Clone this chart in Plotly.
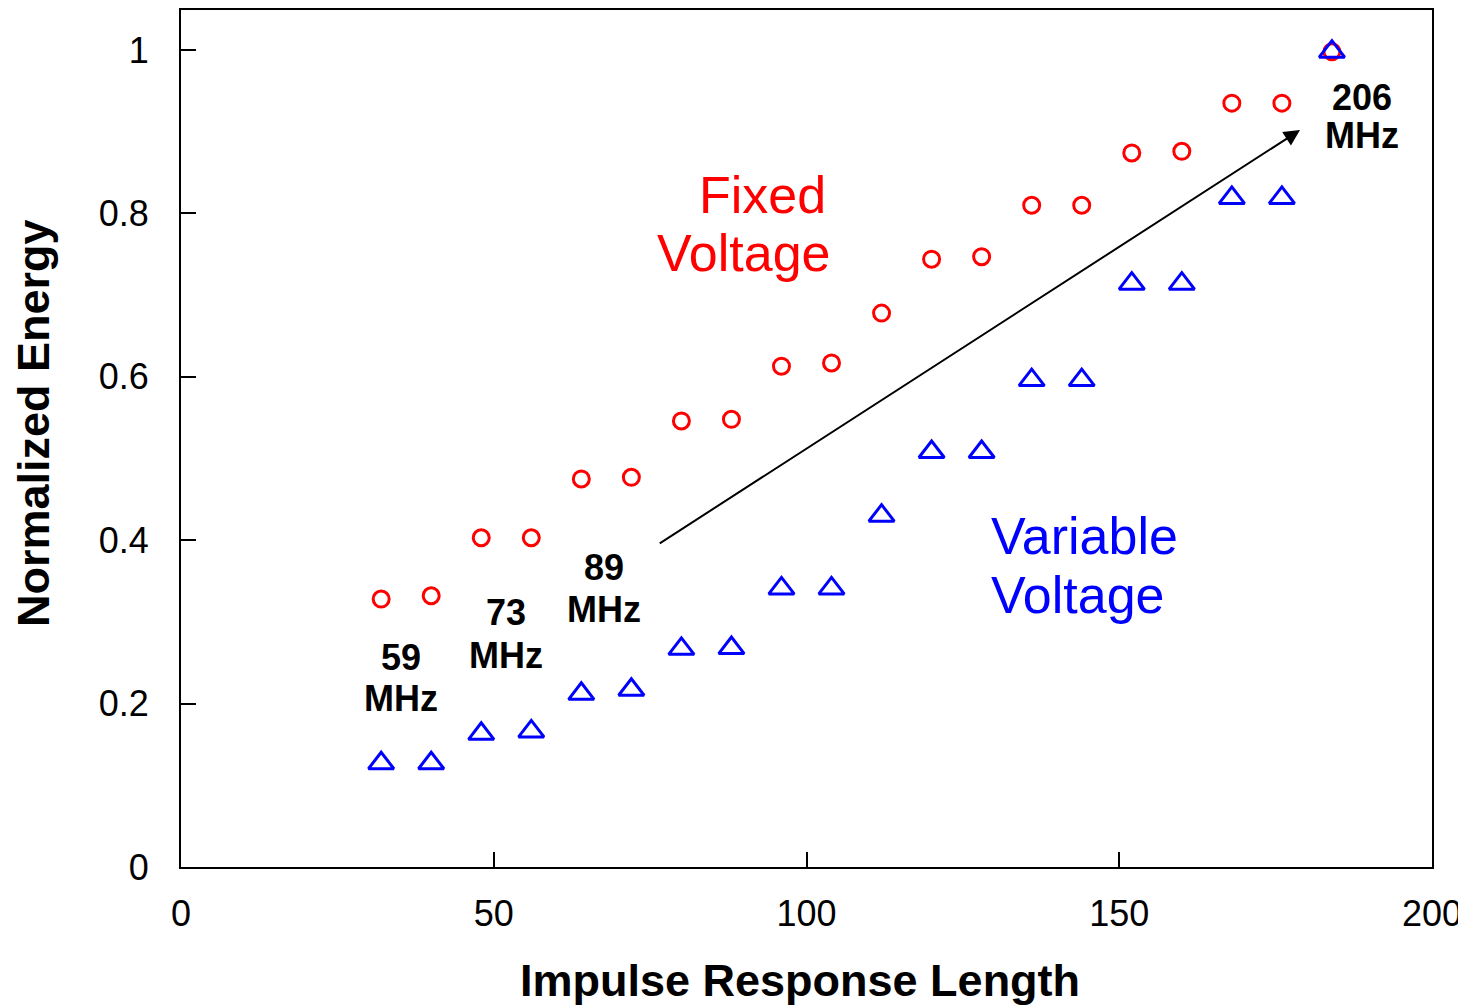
import plotly.graph_objects as go

lengths = [32, 40, 48, 56, 64, 72, 80, 88, 96, 104, 112, 120, 128, 136, 144, 152, 160, 168, 176, 184]
fixed_voltage = [0.328, 0.332, 0.403, 0.403, 0.475, 0.477, 0.546, 0.548, 0.613, 0.617,
                 0.678, 0.744, 0.747, 0.810, 0.810, 0.874, 0.876, 0.935, 0.935, 0.998]
variable_voltage = [0.127, 0.127, 0.163, 0.166, 0.212, 0.217, 0.267, 0.268, 0.341, 0.341,
                    0.430, 0.508, 0.508, 0.596, 0.596, 0.714, 0.714, 0.819, 0.819, 0.998]

freq_numbers = ["59", "73", "89", "206"]
freq_x = [35.1, 52.0, 67.6, 188.8]
freq_num_y = [0.257, 0.311, 0.366, 0.942]
freq_unit_y = [0.206, 0.259, 0.315, 0.895]

x_title = "Impulse Response Length"
y_title = "Normalized Energy"

font_family = "Liberation Sans, Arial, sans-serif"

fig = go.Figure()
fig.add_trace(go.Scatter(
    x=lengths, y=fixed_voltage, mode="markers", name="Fixed Voltage",
    marker=dict(symbol="circle-open", size=16, color="#ff0000", line=dict(width=3, color="#ff0000")),
))
fig.add_trace(go.Scatter(
    x=lengths, y=variable_voltage, mode="markers", name="Variable Voltage",
    marker=dict(symbol="triangle-up-open", size=22, color="#0000ff", line=dict(width=3, color="#0000ff")),
))

bold = dict(family=font_family, size=36, color="black", weight="bold")
for num, xx, yn, yu in zip(freq_numbers, freq_x, freq_num_y, freq_unit_y):
    fig.add_annotation(x=xx, y=yn, text=num, showarrow=False, font=bold, xanchor="center", yanchor="middle")
    fig.add_annotation(x=xx, y=yu, text="MHz", showarrow=False, font=bold, xanchor="center", yanchor="middle")

red = dict(family=font_family, size=52, color="#ff0000")
blue = dict(family=font_family, size=52, color="#0000ff")
fig.add_annotation(x=103.4, y=0.822, text="Fixed", showarrow=False, font=red, xanchor="right", yanchor="middle")
fig.add_annotation(x=104.3, y=0.752, text="Voltage", showarrow=False, font=red, xanchor="right", yanchor="middle")
fig.add_annotation(x=129.2, y=0.405, text="Variable", showarrow=False, font=blue, xanchor="left", yanchor="middle")
fig.add_annotation(x=129.2, y=0.333, text="Voltage", showarrow=False, font=blue, xanchor="left", yanchor="middle")

# arrow
fig.add_annotation(x=178.9, y=0.902, ax=76.3, ay=0.395, xref="x", yref="y", axref="x", ayref="y",
                   text="", showarrow=True, arrowhead=2, arrowsize=1.6, arrowwidth=2, arrowcolor="black")

# axis titles as annotations (positioned like the reference)
title_font = dict(family=font_family, size=45, color="black", weight="bold")
fig.add_annotation(xref="paper", yref="paper", x=0.495, y=0, yshift=-113, text=x_title,
                   showarrow=False, font=title_font, xanchor="center", yanchor="middle")
fig.add_annotation(xref="paper", yref="paper", x=0, y=0.518, xshift=-148, text=y_title,
                   textangle=-90, showarrow=False, font=title_font, xanchor="center", yanchor="middle")

fig.update_xaxes(range=[0, 200], tickvals=[0, 50, 100, 150, 200], ticks="inside", ticklen=15,
                 tickwidth=2, tickcolor="black", showline=True, linecolor="black", linewidth=2,
                 mirror=True, showgrid=False, zeroline=False, ticklabelstandoff=14,
                 tickfont=dict(family=font_family, size=36, color="black"))
fig.update_yaxes(range=[0, 1.049], tickvals=[0, 0.2, 0.4, 0.6, 0.8, 1],
                 ticktext=["0", "0.2", "0.4", "0.6", "0.8", "1"],
                 ticks="inside", ticklen=15, tickwidth=2, tickcolor="black",
                 showline=True, linecolor="black", linewidth=2, mirror=True,
                 showgrid=False, zeroline=False, ticklabelstandoff=23,
                 tickfont=dict(family=font_family, size=36, color="black"))

fig.update_layout(width=1458, height=997, margin=dict(l=173, r=34, t=2, b=138, autoexpand=False),
                  plot_bgcolor="white", paper_bgcolor="white", showlegend=False)

fig.write_html("out.html")
